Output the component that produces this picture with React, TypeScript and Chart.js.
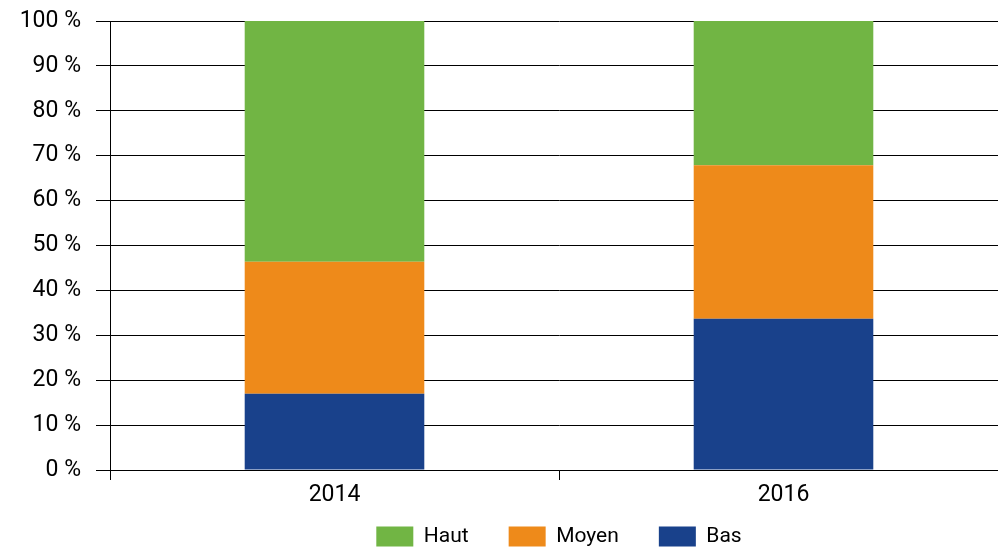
import React, { useEffect, useRef } from "react";
import { Chart, registerables } from "chart.js";

Chart.register(...registerables);

const categories = ["2014", "2016"];
const basValues = [17.0, 33.7];
const moyenValues = [29.4, 34.2];
const hautValues = [53.6, 32.1];
const yTicks = [0, 10, 20, 30, 40, 50, 60, 70, 80, 90, 100];

const FONT = "Roboto";
const LEGEND_TOP = 486;

const legendShift = {
  id: "legendShift",
  afterLayout(chart: any) {
    const l = chart.legend;
    if (!l) return;
    const dy = l.top - LEGEND_TOP;
    l.top -= dy;
    l.bottom -= dy;
  },
};

export default function App() {
  const ref = useRef<HTMLCanvasElement | null>(null);

  useEffect(() => {
    if (!ref.current) return;
    const chart = new Chart(ref.current, {
      type: "bar",
      data: {
        labels: categories,
        datasets: [
          { label: "Bas", data: basValues, backgroundColor: "#19418B" },
          { label: "Moyen", data: moyenValues, backgroundColor: "#EE8A1A" },
          { label: "Haut", data: hautValues, backgroundColor: "#71B544" },
        ],
      },
      plugins: [legendShift],
      options: {
        animation: false,
        responsive: true,
        maintainAspectRatio: false,
        layout: { padding: { left: 0, right: 2, top: 21, bottom: 8 } },
        datasets: {
          bar: { categoryPercentage: 1, barPercentage: 0.4 },
        },
        plugins: {
          tooltip: { enabled: false },
          legend: {
            position: "bottom",
            fullSize: false,
            reverse: true,
            labels: {
              boxWidth: 37,
              boxHeight: 20,
              padding: 40,
              color: "#000",
              font: { family: FONT, size: 21 },
            },
          },
        },
        scales: {
          x: {
            stacked: true,
            afterFit: (s: any) => {
              s.height = 40;
            },
            grid: {
              drawOnChartArea: false,
              drawTicks: true,
              tickLength: 10,
              color: "#000",
            },
            border: { color: "#000", width: 1 },
            ticks: {
              color: "#000",
              padding: 1,
              font: { family: FONT, size: 23 },
            },
          },
          y: {
            stacked: true,
            min: 0,
            max: 100,
            afterFit: (s: any) => {
              s.width = 110;
              s.paddingTop = 0;
              s.paddingBottom = 0;
            },
            afterBuildTicks: (s: any) => {
              s.ticks = yTicks.map((v) => ({ value: v }));
            },
            grid: {
              color: "#000",
              lineWidth: 1,
              tickLength: 14,
            },
            border: { color: "#000", width: 1 },
            ticks: {
              color: "#000",
              padding: 15,
              font: { family: FONT, size: 23 },
              callback: (v: any) => v + " %",
            },
          },
        },
      },
    });
    return () => chart.destroy();
  }, []);

  return (
    <div
      style={{
        position: "fixed",
        left: 0,
        top: 0,
        width: 998,
        height: 547,
        overflow: "hidden",
        background: "#fff",
      }}
    >
      <div style={{ position: "relative", width: 1010, height: 589 }}>
        <canvas ref={ref} />
      </div>
    </div>
  );
}
